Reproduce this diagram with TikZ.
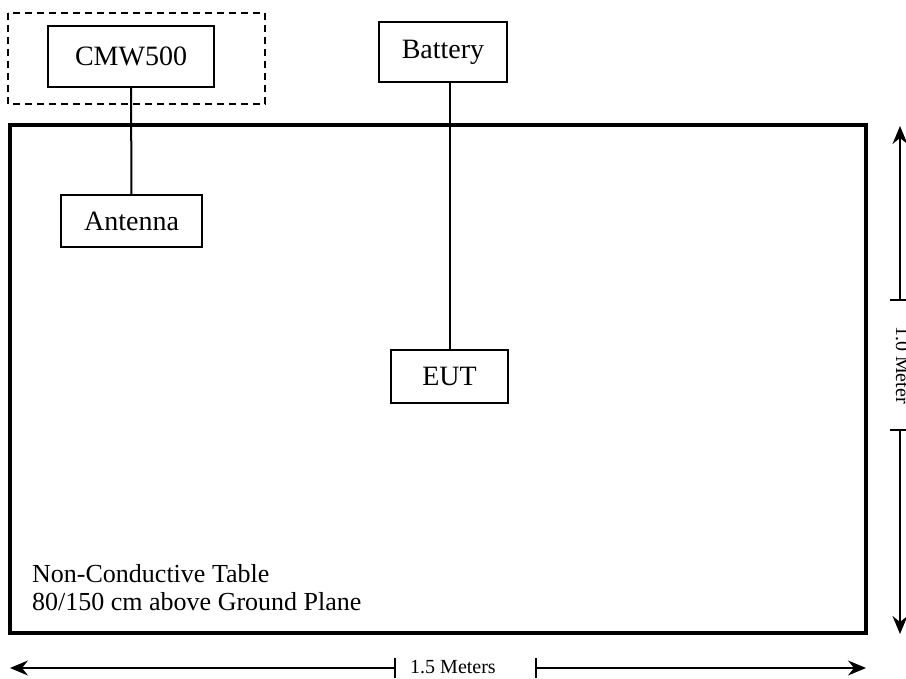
\documentclass[tikz,border=0pt]{standalone}
\usepackage{fontspec}
\setmainfont{Liberation Serif}
\usetikzlibrary{arrows.meta}
\begin{document}
\begin{tikzpicture}[x=1pt,y=-1pt,
  boxnode/.style={draw,line width=1.8pt,inner sep=0pt,font=\fontsize{28}{32}\selectfont},
  wire/.style={line width=2pt},
  dimarrow/.style={line width=1.8pt,-{Stealth[length=18pt,width=15pt,inset=6pt]}},
  tick/.style={line width=1.5pt}]
\useasboundingbox (0,0) rectangle (906,679);
\clip (0,0) rectangle (906,679);
% dashed enclosure
\draw[line width=1.6pt,dash pattern=on 7pt off 5pt] (8,13) rectangle (265,104);
% table
\node[draw,line width=3.2pt,minimum width=856pt,minimum height=508pt,inner sep=0pt] (table) at (438,379) {};
% boxes
\node[boxnode,minimum width=166pt,minimum height=61pt] (cmw) at (131,56.5) {CMW500};
\node[boxnode,minimum width=128pt,minimum height=60pt] (bat) at (443,52) {Battery};
\node[boxnode,minimum width=141pt,minimum height=52pt] (ant) at (131.5,221) {Antenna};
\node[boxnode,minimum width=117pt,minimum height=53pt] (eut) at (449.5,376.5) {EUT};
% connectors
\draw[wire] (cmw.south) -- (ant.north);
\draw[wire] (bat.south -| eut.north) -- (eut.north);
% table label
\node[anchor=north west,align=left,inner sep=0pt,font=\fontsize{26}{28}\selectfont] (lbl) at (32,564) {Non-Conductive Table\\80/150 cm above Ground Plane};
% horizontal dimension
\node[font=\fontsize{20}{24}\selectfont,inner sep=0pt] (hlab) at (453,667) {1.5 Meters};
\coordinate (hl) at (10,668);
\coordinate (hr) at (866,668);
\coordinate (htl) at (395,668);
\coordinate (htr) at (536,668);
\draw[dimarrow] (htl) -- (hl);
\draw[dimarrow] (htr) -- (hr);
\draw[tick] ([yshift=-10pt]htl) -- ([yshift=10pt]htl);
\draw[tick] ([yshift=-10pt]htr) -- ([yshift=10pt]htr);
% vertical dimension
\node[font=\fontsize{20}{24}\selectfont,inner sep=0pt,rotate=-90,anchor=base] (vlab) at (896,365) {1.0 Meter};
\coordinate (vt) at (900,126);
\coordinate (vb) at (900,634);
\coordinate (vtt) at (900,300);
\coordinate (vtb) at (900,430);
\draw[dimarrow] (vtt) -- (vt);
\draw[dimarrow] (vtb) -- (vb);
\draw[tick] ([xshift=-10pt]vtt) -- ([xshift=10pt]vtt);
\draw[tick] ([xshift=-10pt]vtb) -- ([xshift=10pt]vtb);
\end{tikzpicture}
\end{document}
